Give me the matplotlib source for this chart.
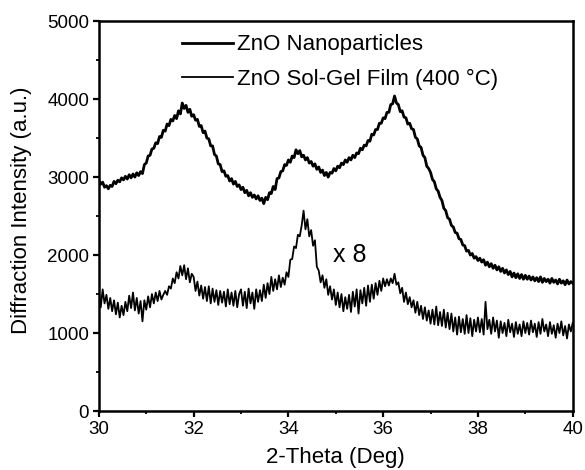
import numpy as np
import matplotlib
matplotlib.use('Agg')
import matplotlib.pyplot as plt
from matplotlib.ticker import MultipleLocator

plt.rcParams['font.family'] = ['Liberation Sans', 'DejaVu Sans']

# 2-theta grid, 0.04 deg step from 30 to 40
two_theta = np.round(np.arange(30.0, 40.0001, 0.04), 2)

# ZnO nanoparticles (as measured)
nano = [
    2960, 2910, 2935, 2870, 2890, 2850, 2895, 2880, 2945, 2915, 2960, 2940, 2990, 2965, 3010, 2975, 3030, 2990, 3040, 3000, 3055, 3020, 3070, 3045, 3160,
    3180, 3270, 3280, 3360, 3370, 3440, 3430, 3520, 3510, 3600, 3590, 3680, 3660, 3740, 3720, 3790, 3750, 3850, 3810, 3950, 3880, 3920, 3830, 3870, 3780,
    3800, 3730, 3740, 3650, 3660, 3570, 3590, 3500, 3490, 3400, 3400, 3290, 3270, 3170, 3160, 3070, 3080, 3010, 3020, 2950, 2980, 2910, 2945, 2880, 2900,
    2840, 2870, 2800, 2830, 2760, 2800, 2740, 2770, 2720, 2760, 2700, 2730, 2660, 2740, 2710, 2800, 2790, 2880, 2840, 2980, 2990, 3070, 3080, 3160, 3150,
    3220, 3190, 3270, 3250, 3350, 3300, 3340, 3260, 3280, 3220, 3250, 3180, 3200, 3140, 3170, 3100, 3130, 3060, 3090, 3020, 3060, 3000, 3060, 3050, 3110,
    3080, 3140, 3120, 3180, 3160, 3220, 3190, 3250, 3220, 3280, 3250, 3310, 3300, 3370, 3350, 3410, 3400, 3470, 3460, 3550, 3540, 3610, 3610, 3690, 3690,
    3760, 3750, 3830, 3830, 3930, 3940, 4040, 3950, 3930, 3840, 3850, 3770, 3760, 3680, 3690, 3620, 3610, 3510, 3490, 3400, 3380, 3280, 3250, 3140, 3110,
    3060, 2970, 2940, 2850, 2820, 2740, 2700, 2600, 2570, 2480, 2460, 2380, 2360, 2290, 2280, 2210, 2200, 2130, 2120, 2050, 2060, 2000, 2020, 1960, 1980,
    1930, 1960, 1910, 1940, 1870, 1910, 1850, 1890, 1830, 1870, 1810, 1850, 1790, 1830, 1770, 1810, 1750, 1790, 1720, 1770, 1710, 1760, 1700, 1750, 1690,
    1740, 1690, 1730, 1680, 1720, 1670, 1710, 1660, 1720, 1650, 1700, 1660, 1690, 1640, 1700, 1650, 1680, 1630, 1690, 1640, 1670, 1620, 1680, 1630, 1660,
    1640,
]

# ZnO sol-gel film (400 C), intensity multiplied by 8
film_x8 = [
    1550, 1330, 1560, 1380, 1490, 1310, 1450, 1280, 1420, 1240, 1390, 1200, 1350, 1230, 1400, 1280, 1480, 1320, 1520, 1290, 1450, 1250, 1410, 1150, 1420,
    1300, 1470, 1330, 1500, 1380, 1520, 1410, 1540, 1430, 1490, 1540, 1490, 1600, 1570, 1700, 1640, 1780, 1700, 1860, 1740, 1870, 1690, 1830, 1650, 1760,
    1720, 1540, 1660, 1480, 1610, 1440, 1590, 1410, 1600, 1380, 1570, 1400, 1550, 1360, 1540, 1390, 1530, 1340, 1560, 1370, 1520, 1350, 1540, 1330, 1500,
    1560, 1350, 1530, 1320, 1570, 1380, 1520, 1310, 1560, 1400, 1550, 1410, 1620, 1450, 1640, 1500, 1720, 1540, 1690, 1560, 1740, 1590, 1710, 1620, 1780,
    1720, 1940, 1950, 2110, 2090, 2260, 2240, 2380, 2570, 2330, 2460, 2240, 2320, 2120, 2190, 1850, 1800, 1650, 1740, 1580, 1690, 1490, 1600, 1430, 1560,
    1360, 1520, 1330, 1500, 1280, 1460, 1310, 1490, 1270, 1530, 1340, 1560, 1250, 1550, 1380, 1580, 1350, 1610, 1400, 1620, 1440, 1640, 1490, 1670, 1540,
    1700, 1600, 1690, 1610, 1700, 1640, 1760, 1620, 1650, 1510, 1580, 1400, 1520, 1370, 1460, 1330, 1420, 1260, 1400, 1230, 1350, 1180, 1330, 1160, 1290,
    1120, 1300, 1110, 1340, 1100, 1270, 1090, 1300, 1070, 1260, 1050, 1250, 1020, 1200, 980, 1210, 1010, 1180, 990, 1230, 1000, 1190, 960, 1170, 1020,
    1200, 1010, 1180, 980, 1400, 1050, 1170, 990, 1200, 1020, 1160, 940, 1150, 1000, 1130, 960, 1170, 1010, 1120, 950, 1140, 990, 1110, 960, 1150,
    1000, 1130, 980, 1160, 1010, 1120, 950, 1140, 990, 1180, 1020, 1110, 960, 1140, 990, 1100, 940, 1120, 1000, 1150, 970, 1090, 930, 1110, 1020,
    1130,
]

labels = ['ZnO Nanoparticles', 'ZnO Sol-Gel Film (400 \u00b0C)']

fig = plt.figure(figsize=(5.85, 4.70), dpi=100)
ax = fig.add_axes([0.169, 0.1255, 0.81, 0.8295])

ax.plot(two_theta, nano, color='black', lw=2.0, label=labels[0])
ax.plot(two_theta, film_x8, color='black', lw=1.3, label=labels[1])

ax.text(34.95, 2000, 'x 8', fontsize=18, va='center', ha='left')

ax.set_xlim(30, 40)
ax.set_ylim(0, 5000)
ax.xaxis.set_major_locator(MultipleLocator(2))
ax.xaxis.set_minor_locator(MultipleLocator(1))
ax.yaxis.set_major_locator(MultipleLocator(1000))
ax.yaxis.set_minor_locator(MultipleLocator(500))
ax.tick_params(which='major', direction='out', length=4.5, width=1.6, labelsize=13.5, pad=2.5)
ax.tick_params(which='minor', direction='out', length=2.5, width=1.3)
for s in ax.spines.values():
    s.set_linewidth(1.8)

ax.set_xlabel('2-Theta (Deg)', fontsize=16, labelpad=7)
ax.set_ylabel('Diffraction Intensity (a.u.)', fontsize=16)
ax.yaxis.set_label_coords(-0.142, 0.515)

ax.legend(loc='upper left', bbox_to_anchor=(0.175, 0.966), frameon=False,
          fontsize=16, handlelength=2.3, handletextpad=0.2,
          labelspacing=0.6, borderpad=0, borderaxespad=0)

fig.savefig('out.png', dpi=100)
